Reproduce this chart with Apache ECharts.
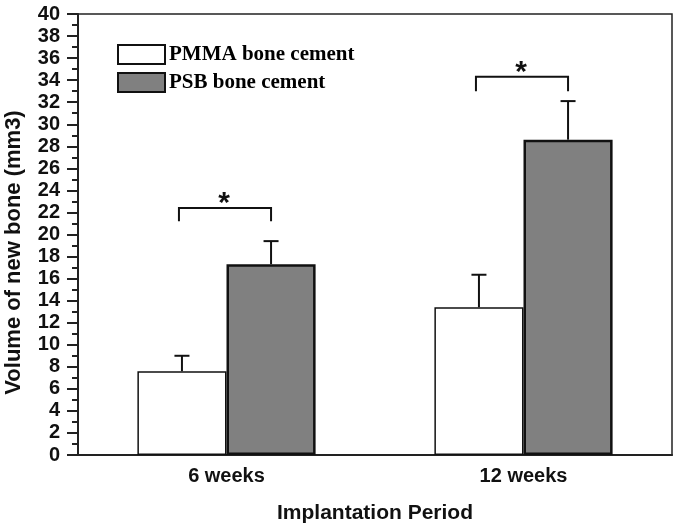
<!DOCTYPE html>
<html>
<head>
<meta charset="utf-8">
<script src="https://cdn.jsdelivr.net/npm/echarts@6/dist/echarts.min.js"></script>
<style>html,body{margin:0;padding:0;background:#fff}#c{width:679px;height:530px}</style>
</head>
<body>
<div id="c"></div>
<script>
var categories = ['6 weeks', '12 weeks'];
var pmma = [7.6, 13.4];
var psb = [17.3, 28.6];
var pmmaErr = [1.4, 2.95];
var psbErr = [2.1, 3.5];
var bracketTop = [22.4, 34.3];
var bracketEnd = [21.2, 33.0];
var seriesNames = ['PMMA bone cement', 'PSB bone cement'];

var chart = echarts.init(document.getElementById('c'));

function errData(vals, errs) {
  return vals.map(function (v, i) { return [i, v, v + errs[i]]; });
}
function errRender(sign) {
  return function (params, api) {
    var band = api.size([1, 0])[0];
    var off = sign * 0.15 * band;
    var p0 = api.coord([api.value(0), api.value(1)]);
    var p1 = api.coord([api.value(0), api.value(2)]);
    var x = p0[0] + off;
    var st = { stroke: '#111', lineWidth: 2 };
    return {
      type: 'group',
      children: [
        { type: 'line', shape: { x1: x, y1: p0[1], x2: x, y2: p1[1] }, style: st },
        { type: 'line', shape: { x1: x - 7.5, y1: p1[1], x2: x + 7.5, y2: p1[1] }, style: st }
      ]
    };
  };
}

var bracketData = bracketTop.map(function (t, i) { return [i, t, bracketEnd[i]]; });

var font = 'Liberation Sans, Arial, sans-serif';

chart.setOption({
  animation: false,
  backgroundColor: '#fff',
  grid: { left: 78, top: 14, right: 7, bottom: 75, outerBoundsMode: 'none', containLabel: false, show: true, borderColor: '#222', borderWidth: 1.5, backgroundColor: 'transparent' },
  legend: {
    data: seriesNames,
    orient: 'vertical',
    left: 112, top: 39,
    itemWidth: 47, itemHeight: 19, itemGap: 7,
    icon: 'rect',
    textStyle: { fontFamily: 'Liberation Serif, Times New Roman, serif', fontWeight: 'bold', fontSize: 21, color: '#000', padding: [0, 0, 0, -1] }
  },
  xAxis: {
    type: 'category',
    data: categories,
    name: 'Implantation Period',
    nameLocation: 'middle',
    nameGap: 48,
    nameTextStyle: { fontFamily: font, fontWeight: 'bold', fontSize: 21, color: '#111' },
    axisLine: { lineStyle: { color: '#222', width: 2 } },
    axisTick: { show: false },
    axisLabel: { fontFamily: font, fontWeight: 'bold', fontSize: 20, color: '#111', margin: 11 },
    splitLine: { show: false }
  },
  yAxis: {
    type: 'value',
    min: 0, max: 40, interval: 2,
    name: 'Volume of new bone (mm3)',
    nameLocation: 'middle',
    nameGap: 53,
    nameTextStyle: { fontFamily: font, fontWeight: 'bold', fontSize: 22, color: '#111', padding: [0, 0, 0, -36] },
    axisLine: { show: true, lineStyle: { color: '#222', width: 2 } },
    axisTick: { show: true, length: 11, lineStyle: { color: '#222', width: 2 } },
    minorTick: { show: true, splitNumber: 2, length: 6, lineStyle: { color: '#222', width: 2 } },
    axisLabel: { fontFamily: font, fontWeight: 'bold', fontSize: 20, color: '#111', margin: 18 },
    splitLine: { show: false }
  },
  series: [
    {
      name: seriesNames[0], type: 'bar', data: pmma,
      barCategoryGap: '40%', barGap: '0%',
      itemStyle: { color: '#ffffff', borderColor: '#111', borderWidth: 1.5 }
    },
    {
      name: seriesNames[1], type: 'bar', data: psb,
      barCategoryGap: '40%', barGap: '0%',
      itemStyle: { color: '#808080', borderColor: '#111', borderWidth: 2.5 }
    },
    { type: 'custom', data: errData(pmma, pmmaErr), renderItem: errRender(-1), z: 3 },
    { type: 'custom', data: errData(psb, psbErr), renderItem: errRender(1), z: 3 },
    {
      type: 'custom', data: bracketData, z: 4,
      renderItem: function (params, api) {
        var band = api.size([1, 0])[0];
        var pt = api.coord([api.value(0), api.value(1)]);
        var pe = api.coord([api.value(0), api.value(2)]);
        var xl = pt[0] - 0.15 * band - 3, xr = pt[0] + 0.15 * band;
        var st = { stroke: '#111', lineWidth: 2, fill: null };
        return {
          type: 'group',
          children: [
            { type: 'polyline', shape: { points: [[xl, pe[1]], [xl, pt[1]], [xr, pt[1]], [xr, pe[1]]] }, style: st },
            { type: 'text', x: (xl + xr) / 2 - 1, y: pt[1] + 11, style: { text: '*', fontFamily: font, fontWeight: 'bold', fontSize: 30, fill: '#111', align: 'center', verticalAlign: 'bottom' } }
          ]
        };
      }
    }
  ]
});
</script>
</body>
</html>
